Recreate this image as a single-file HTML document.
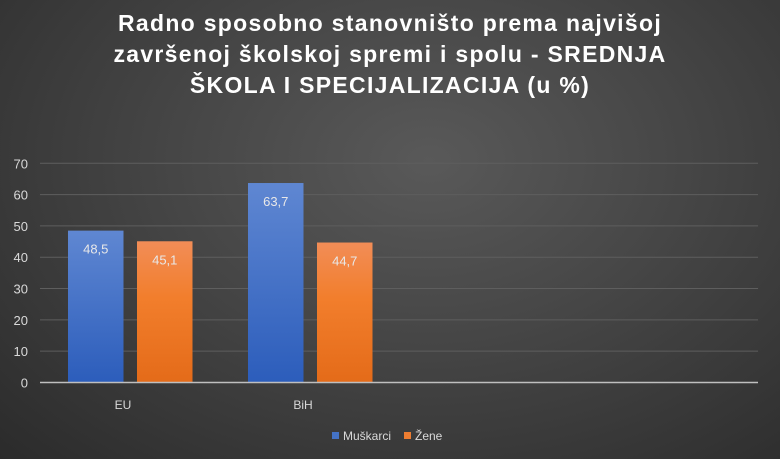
<!DOCTYPE html>
<html><head><meta charset="utf-8"><style>
body{margin:0;width:780px;height:459px;overflow:hidden;font-family:"Liberation Sans",sans-serif;}
#bg{position:absolute;left:0;top:0;width:780px;height:459px;background:radial-gradient(ellipse at 55% 35%,#595959 0%,#474747 40%,#2b2b2b 100%);}
</style></head><body>
<div id="bg"></div>
<svg id="c" width="780" height="459" style="position:absolute;left:0;top:0">
<defs>
<linearGradient id="gb" x1="0" y1="0" x2="0" y2="1"><stop offset="0" stop-color="#5f87d2"/><stop offset="1" stop-color="#2c5dbb"/></linearGradient>
<linearGradient id="go" x1="0" y1="0" x2="0" y2="1"><stop offset="0" stop-color="#f28d57"/><stop offset="0.4" stop-color="#f27e2c"/><stop offset="1" stop-color="#e46b19"/></linearGradient>
</defs>
<text x="390" y="31" text-anchor="middle" fill="#fff" font-size="23" font-weight="bold" letter-spacing="1.3"><tspan x="390" dy="0">Radno sposobno stanovništo prema najvišoj</tspan><tspan x="390" dy="31">završenoj školskoj spremi i spolu - SREDNJA</tspan><tspan x="390" dy="31">ŠKOLA I SPECIJALIZACIJA (u %)</tspan></text>
</svg>
<script>
const categories=["EU","BiH","",""];
const muskarci=[48.5,63.7,null,null];
const zene=[45.1,44.7,null,null];
const ticks=[0,10,20,30,40,50,60,70];
const labelsM=["48,5","63,7"];
const labelsZ=["45,1","44,7"];
const svg=document.getElementById('c');
const NS='http://www.w3.org/2000/svg';
const x0=38,slot=180,y0=382.5,yTop=163.3,ymax=70;
const y=v=>y0-(v/ymax)*(y0-yTop);
function mk(t,a,txt){const e=document.createElementNS(NS,t);for(const k in a)e.setAttribute(k,a[k]);if(txt!=null)e.textContent=txt;svg.appendChild(e);return e;}
ticks.forEach(t=>{
 if(t>0){const g=mk('line',{x1:40,x2:758,y1:y(t),y2:y(t),stroke:'#5e5e5e','stroke-width':1});
 
 }
 const l=mk('text',{x:28,y:y(t)+5,'text-anchor':'end',fill:'#d9d9d9','font-size':13},String(t));
 
 
});
categories.forEach((c,i)=>{
 const sx=x0+i*slot;
 [[muskarci,'url(#gb)',30,labelsM,'bar-muskarci'],[zene,'url(#go)',99,labelsZ,'bar-zene']].forEach(([arr,fill,off,lab,name])=>{
  const v=arr[i]; if(v==null)return;
  const r=mk('rect',{x:sx+off,y:y(v),width:55.5,height:y0-y(v),fill:fill});
  
  
  const t=mk('text',{x:sx+off+27.75,y:y(v)+23,'text-anchor':'middle',fill:'#e8e8e8','font-size':13},lab[i]);
  
  
 });
 if(c){const t=mk('text',{x:sx+slot/2-5,y:409,'text-anchor':'middle',fill:'#d9d9d9','font-size':12},c);
 
 }
});
const ax=mk('line',{x1:40,x2:758,y1:y0,y2:y0,stroke:'#bfbfbf','stroke-width':1.5});


[[332,'#4472c4','Muškarci'],[404,'#ed7d31','Žene']].forEach(([lx,col,txt])=>{
 const s=mk('rect',{x:lx,y:432,width:7,height:7,fill:col});
 
 
 const t=mk('text',{x:lx+11,y:440,fill:'#d9d9d9','font-size':12},txt);
 
 
});
</script>
</body></html>
